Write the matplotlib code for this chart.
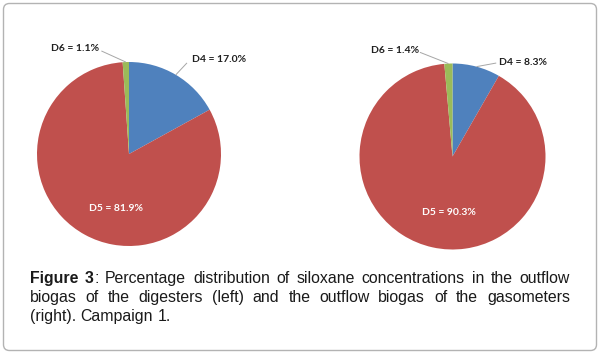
import matplotlib
matplotlib.use('Agg')
import matplotlib.pyplot as plt
from matplotlib.patches import FancyBboxPatch
from matplotlib.transforms import IdentityTransform
import numpy as np

# ---- data ----
categories = ['D4', 'D5', 'D6']
left_values = [17.0, 81.9, 1.1]
right_values = [8.3, 90.3, 1.4]
colors = ['#4F81BD', '#C0504D', '#9BBB59']
caption_lines = [
    [[("Figure", "bold")], [("3", "bold"), (":", "normal")], "Percentage", "distribution",
     "of", "siloxane", "concentrations", "in", "the", "outflow"],
    ["biogas", "of", "the", "digesters", "(left)", "and", "the", "outflow", "biogas",
     "of", "the", "gasometers"],
    ["(right).", "Campaign", "1."],
]

W, H = 600, 357
fig = plt.figure(figsize=(W / 100, H / 100), dpi=100)
fig.patch.set_facecolor('white')

# border
border = FancyBboxPatch((3.5, 6.5), 593, 347, boxstyle="round,pad=0,rounding_size=6",
                        transform=IdentityTransform(), facecolor='white',
                        edgecolor='#B3B3B3', linewidth=1.0, zorder=0)
fig.add_artist(border)

LABEL_FONT = dict(family='Lato', weight='bold', fontsize=7.5)


def make_pie(cx, cy, r, values, label_cfg):
    ax = fig.add_axes([(cx - r) / W, 1 - (cy + r) / H, 2 * r / W, 2 * r / H])
    wedges, _ = ax.pie(values, colors=colors, startangle=90, counterclock=False,
                       radius=1, wedgeprops=dict(linewidth=0))
    ax.set_xlim(-1, 1)
    ax.set_ylim(-1, 1)
    ax.set_aspect('equal')
    ax.axis('off')
    for i, (w, name, val) in enumerate(zip(wedges, categories, values)):
        txt = f"{name} = {val:.1f}%"
        cfg = label_cfg[name]
        if cfg['inside']:
            ax.text(cfg['xy'][0], cfg['xy'][1], txt, ha='center', va='center',
                    color='white', **LABEL_FONT)
        else:
            ang = np.deg2rad((w.theta1 + w.theta2) / 2)
            p0 = (np.cos(ang), np.sin(ang))
            lx, ly = cfg['line']
            ax.plot([p0[0], lx], [p0[1], ly], color='#A6A6A6', lw=0.7,
                    clip_on=False, solid_capstyle='butt')
            ax.text(cfg['xy'][0], cfg['xy'][1], txt, ha=cfg['ha'], va='center',
                    color='#1F1F1F', **LABEL_FONT)
    return ax


make_pie(129, 154, 92, left_values, {
    'D4': dict(inside=False, line=(0.63, 0.99), xy=(0.69, 1.03), ha='left'),
    'D6': dict(inside=False, line=(-0.30, 1.12), xy=(-0.32, 1.15), ha='right'),
    'D5': dict(inside=True, xy=(-0.14, -0.59)),
})
make_pie(452.5, 156.5, 93, right_values, {
    'D4': dict(inside=False, line=(0.47, 1.005), xy=(0.50, 1.016), ha='left'),
    'D6': dict(inside=False, line=(-0.35, 1.12), xy=(-0.36, 1.145), ha='right'),
    'D5': dict(inside=True, xy=(-0.04, -0.60)),
})

# ---- caption (justified) ----
CAP_FS = 11.45
CAP_FAM = 'Liberation Sans'
CAP_COL = '#1A1A1A'
fig.canvas.draw()
rend = fig.canvas.get_renderer()


def seg_w(text, weight):
    t = fig.text(0, 0, text, fontsize=CAP_FS, family=CAP_FAM, weight=weight)
    w = t.get_window_extent(rend).width
    t.remove()
    return w


x_left, x_right = 30, 570
baselines = [283, 302, 321]
for li, (line, base) in enumerate(zip(caption_lines, baselines)):
    words = [w if isinstance(w, list) else [(w, 'normal')] for w in line]
    widths = [sum(seg_w(s, wt) for s, wt in word) for word in words]
    if li < len(caption_lines) - 1:
        gap = (x_right - x_left - sum(widths)) / (len(words) - 1)
    else:
        gap = seg_w('a b', 'normal') - seg_w('ab', 'normal')
    x = x_left
    for word, ww in zip(words, widths):
        xs = x
        for s, wt in word:
            fig.text(xs / W, 1 - base / H, s, fontsize=CAP_FS, family=CAP_FAM,
                     weight=wt, color=CAP_COL, ha='left', va='baseline')
            xs += seg_w(s, wt)
        x += ww + gap

fig.savefig('out.png', dpi=100, facecolor='white')
